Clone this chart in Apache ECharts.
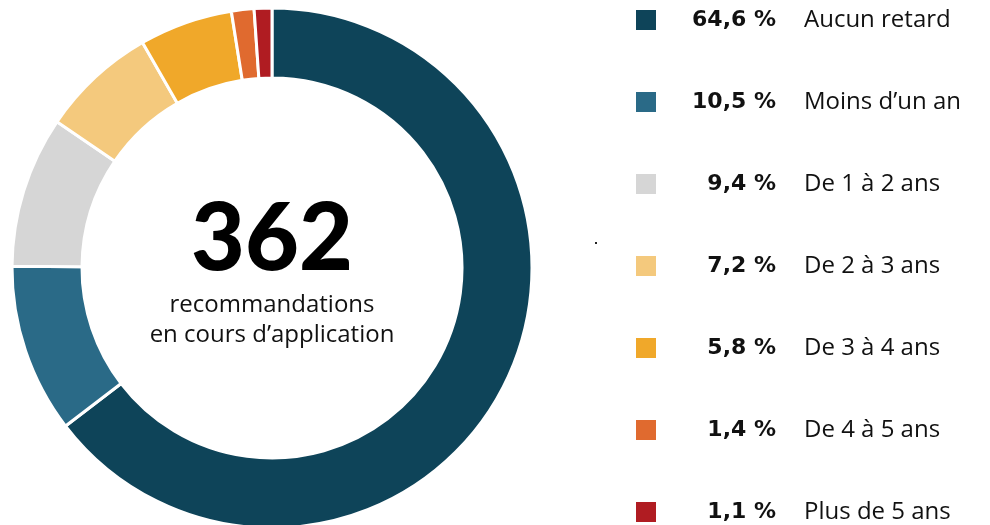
<!DOCTYPE html>
<html><head><meta charset="utf-8">
<script src="https://cdn.jsdelivr.net/npm/echarts@6/dist/echarts.min.js"></script>
<style>html,body{margin:0;padding:0;background:#fff}#c{width:990px;height:525px}</style>
</head><body><div id="c"></div>
<script>
const categories = ["Aucun retard", "Moins d\u2019un an", "De 1 à 2 ans", "De 2 à 3 ans", "De 3 à 4 ans", "De 4 à 5 ans", "Plus de 5 ans"];
const values = [64.6, 10.5, 9.4, 7.2, 5.8, 1.4, 1.1];
const colors = ["#0e4459", "#2a6a87", "#d6d6d6", "#f4c97d", "#f0a82a", "#e06a2f", "#b01c22"];
const totalLabel = "362";
const subLabel = "recommandations\nen cours d\u2019application";

const fmt = v => v.toFixed(1).replace('.', ',') + ' %';
const chart = echarts.init(document.getElementById('c'));
chart.setOption({
  animation: false,
  color: colors,
  legend: {
    orient: 'vertical', left: 634, top: 8, padding: 0, height: 700,
    itemWidth: 22, itemHeight: 22, itemGap: 58, icon: 'rect',
    data: categories,
    formatter: name => {
      const i = categories.indexOf(name);
      return '{p|' + fmt(values[i]) + '}{n|' + name + '}';
    },
    textStyle: {
      lineHeight: 22,
      rich: {
        p: { width: 114, align: 'right', fontWeight: 'bold', fontSize: 22, lineHeight: 22, fontFamily: 'DejaVu Sans', color: '#111' },
        n: { align: 'right', padding: [0, 0, 0, 28], fontSize: 24, lineHeight: 22, fontFamily: 'Open Sans', color: '#111' }
      }
    },
    selectedMode: false
  },
  graphic: [
    { type: 'text', x: 272, y: 240, style: { text: totalLabel, fill: '#000', font: '900 93px Lato', textAlign: 'center', textVerticalAlign: 'middle' } },
    { type: 'text', x: 272, y: 320, style: { text: subLabel, fill: '#111', font: '24px "Open Sans"', textAlign: 'center', textVerticalAlign: 'middle', lineHeight: 30 } },
    { type: 'rect', shape: { x: 595, y: 242, width: 2, height: 2 }, style: { fill: '#222' } }
  ],
  series: [{
    type: 'pie',
    center: [272, 268],
    radius: [190, 260],
    startAngle: 90,
    clockwise: true,
    label: { show: false },
    labelLine: { show: false },
    itemStyle: { borderColor: '#fff', borderWidth: 3 },
    emphasis: { disabled: true },
    data: categories.map((n, i) => ({ name: n, value: values[i] }))
  }]
});
</script></body></html>
